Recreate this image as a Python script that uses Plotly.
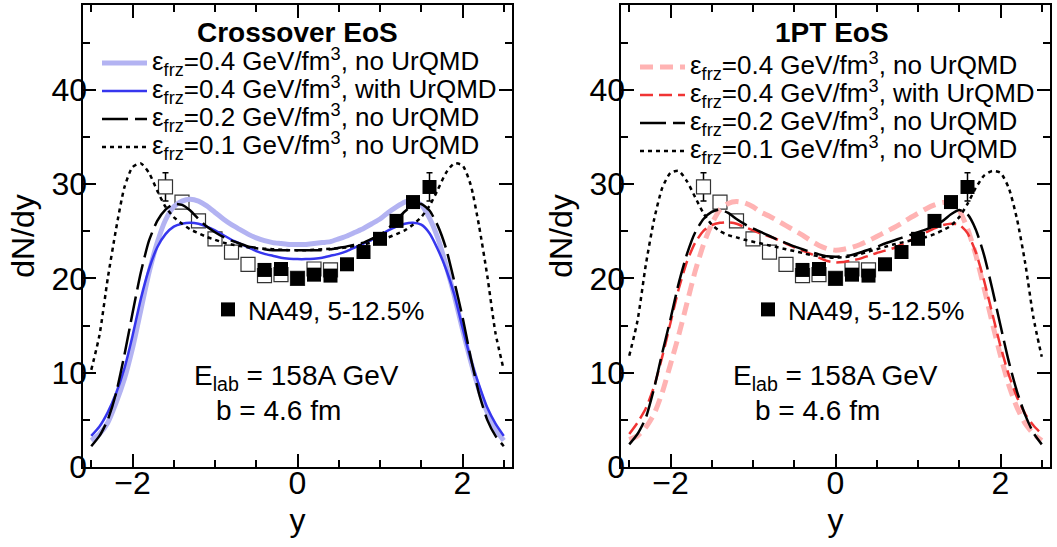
import plotly.graph_objects as go

FONT = "Liberation Sans, Arial, Helvetica, sans-serif"

# rapidity grid of the model curves
Y_GRID = [-2.5, -2.4, -2.3, -2.2, -2.1, -2.0, -1.9, -1.8, -1.7, -1.6, -1.5, -1.4, -1.3,
          -1.2, -1.1, -1.0, -0.9, -0.8, -0.7, -0.6, -0.5, -0.4, -0.3, -0.2, -0.1, 0.0,
          0.1, 0.2, 0.3, 0.4, 0.5, 0.6, 0.7, 0.8, 0.9, 1.0, 1.1, 1.2, 1.3, 1.4, 1.5,
          1.6, 1.7, 1.8, 1.9, 2.0, 2.1, 2.2, 2.3, 2.4, 2.5]

# ---- Crossover EoS ----
XO_04_NO = [2.8, 3.5, 4.7, 6.8, 9.3, 12.6, 16.6, 20.6, 23.8, 26.2, 27.6, 28.2, 28.4,
            28.2, 27.7, 27.0, 26.3, 25.7, 25.2, 24.7, 24.3, 24.0, 23.8, 23.7, 23.6, 23.6,
            23.6, 23.7, 23.8, 23.9, 24.2, 24.5, 24.9, 25.3, 25.8, 26.3, 27.0, 27.6, 28.1, 28.3, 27.8,
            26.4, 24.3, 21.4, 18.2, 14.6, 11.2, 8.2, 5.8, 4.0, 2.8]
XO_04_WITH = [3.3, 4.3, 5.8, 7.8, 10.4, 13.9, 17.8, 21.0, 23.3, 24.7, 25.5, 25.8, 25.9,
              25.8, 25.5, 25.1, 24.6, 24.1, 23.7, 23.3, 22.9, 22.6, 22.4, 22.2, 22.1, 22.05,
              22.05, 22.1, 22.2, 22.4, 22.6, 22.9, 23.3, 23.7, 24.1, 24.6, 25.1, 25.5, 25.8, 25.9, 25.7,
              24.8, 23.1, 21.0, 18.3, 14.8, 11.4, 8.7, 6.3, 4.6, 3.3]
XO_02_NO = [2.2, 3.3, 5.0, 7.8, 11.8, 16.3, 20.6, 24.0, 26.1, 27.3, 27.9, 27.8, 27.2,
            26.3, 25.5, 24.9, 24.4, 24.0, 23.7, 23.4, 23.25, 23.1, 23.0, 23.0, 23.0, 23.0,
            23.0, 23.0, 23.0, 23.1, 23.25, 23.4, 23.6, 23.8, 24.2, 24.6, 25.3, 26.2, 27.1, 27.8, 27.9,
            27.2, 25.6, 23.2, 19.7, 15.9, 11.6, 7.8, 5.0, 3.3, 2.2]
XO_01_NO = [10.3, 14.0, 20.0, 25.2, 29.6, 31.8, 32.2, 31.2, 29.3, 27.6, 26.5, 25.8, 25.2,
            24.8, 24.4, 24.1, 23.8, 23.6, 23.45, 23.3, 23.2, 23.15, 23.1, 23.05, 23.0, 23.0,
            23.0, 23.05, 23.1, 23.15, 23.2, 23.3, 23.45, 23.6, 23.8, 24.05, 24.35, 24.7, 25.1, 25.7, 26.5,
            27.7, 29.4, 31.2, 32.2, 32.0, 29.9, 25.6, 20.3, 14.2, 10.3]

# ---- 1PT EoS ----
PT_04_NO = [2.9, 3.3, 4.2, 5.6, 7.9, 10.9, 14.0, 17.4, 20.8, 23.6, 25.8, 27.3, 27.95,
            28.15, 28.0, 27.6, 27.0, 26.6, 26.1, 25.6, 25.1, 24.6, 24.0, 23.5, 23.15, 23.0,
            23.1, 23.3, 23.6, 24.0, 24.45, 24.9, 25.35, 25.85, 26.4, 26.9, 27.4, 27.8, 28.05, 27.95, 27.2,
            25.3, 22.5, 19.0, 15.3, 11.8, 8.7, 6.3, 4.6, 3.5, 2.8]
PT_04_WITH = [3.5, 4.7, 6.2, 8.5, 11.7, 15.3, 18.9, 21.8, 23.8, 25.05, 25.65, 25.9, 25.95,
              25.8, 25.45, 25.1, 24.75, 24.45, 24.1, 23.7, 23.3, 22.95, 22.6, 22.2, 21.85, 21.7,
              21.75, 21.9, 22.1, 22.4, 22.7, 22.95, 23.2, 23.6, 24.0, 24.5, 24.9, 25.3, 25.65, 25.8, 25.7,
              24.8, 22.8, 19.8, 16.3, 12.8, 9.8, 7.4, 5.6, 4.4, 3.5]
PT_02_NO = [2.4, 3.5, 5.2, 8.3, 12.1, 15.7, 19.5, 22.6, 24.9, 26.3, 27.05, 27.3, 26.95,
            26.3, 25.75, 25.3, 24.9, 24.5, 24.1, 23.75, 23.4, 23.1, 22.8, 22.55, 22.35, 22.3,
            22.35, 22.5, 22.75, 23.05, 23.35, 23.7, 24.0, 24.3, 24.6, 24.9, 25.2, 25.6, 26.1, 26.8, 27.25,
            26.8, 25.2, 22.5, 18.9, 15.0, 11.2, 8.0, 5.5, 3.6, 2.4]
PT_01_NO = [11.8, 15.5, 21.4, 26.2, 29.6, 31.2, 31.4, 30.3, 28.6, 26.9, 25.7, 25.0, 24.6,
            24.35, 24.1, 23.9, 23.7, 23.5, 23.3, 23.1, 22.9, 22.7, 22.5, 22.35, 22.25, 22.2,
            22.25, 22.35, 22.6, 22.85, 23.1, 23.35, 23.6, 23.8, 24.0, 24.2, 24.4, 24.7, 25.1, 25.6, 26.5,
            27.9, 29.6, 30.9, 31.4, 31.2, 29.6, 26.3, 21.6, 15.8, 11.7]

# ---- NA49 data, 5-12.5% (measured points; open = reflected) ----
NA49_Y = [-0.4, -0.2, 0.0, 0.2, 0.4, 0.6, 0.8, 1.0, 1.2, 1.4, 1.6]
NA49_DNDY = [20.9, 21.0, 20.0, 20.4, 20.3, 21.5, 22.8, 24.2, 26.1, 28.1, 29.7]
NA49_ERR = [0.0, 0.0, 0.0, 0.0, 0.0, 0.0, 0.0, 0.0, 0.0, 0.0, 1.5]
NA49_Y_REFL = [-v for v in NA49_Y]

X_TICKS = [-2, 0, 2]
Y_TICKS = [0, 10, 20, 30, 40]
X_RANGE = [-2.6, 2.6]
Y_RANGE = [0, 49]

LEG_TXT = 26
def eps_label(val, what):
    return (f'<span style="font-size:{LEG_TXT}px">ε<sub>frz</sub>={val} GeV/fm<sup>3</sup>, '
            f'{what} UrQMD</span>')

fig = go.Figure()

def add_panel(xa, ya, xl, yl, curves, leg, leg_na49):
    # reflected (open) points first, curves on top of them
    fig.add_trace(go.Scatter(
        x=NA49_Y_REFL, y=NA49_DNDY, mode="markers", xaxis=xa, yaxis=ya, showlegend=False,
        marker=dict(symbol="square", size=14, color="white", line=dict(width=1.2, color="#333333")),
        error_y=dict(type="data", array=NA49_ERR, color="black", thickness=1.5, width=3),
        hoverinfo="skip"))
    for yv, name, color, width, dash in curves:
        fig.add_trace(go.Scatter(
            x=Y_GRID, y=yv, mode="lines", name=name, xaxis=xa, yaxis=ya,
            line=dict(color=color, width=width, dash=dash, shape="spline", smoothing=0.6),
            legend=leg, hoverinfo="skip"))
    fig.add_trace(go.Scatter(
        x=NA49_Y, y=NA49_DNDY, mode="markers", xaxis=xa, yaxis=ya, name="NA49, 5-12.5%",
        legend=leg_na49,
        marker=dict(symbol="square", size=14, color="black", line=dict(width=0)),
        error_y=dict(type="data", array=NA49_ERR, color="black", thickness=1.5, width=3)))
    # transparent copy of the data that carries the tick-label axes
    fig.add_trace(go.Scatter(
        x=NA49_Y, y=NA49_DNDY, mode="markers", xaxis=xl, yaxis=yl, showlegend=False,
        marker=dict(opacity=0), hoverinfo="skip"))

LONG = "26px,7px"
DOT = "4px,4px"
add_panel("x", "y", "x3", "y3", [
    (XO_04_NO, eps_label("0.4", "no"), "#b3b3f2", 5, "solid"),
    (XO_04_WITH, eps_label("0.4", "with"), "#3636ee", 2.5, "solid"),
    (XO_02_NO, eps_label("0.2", "no"), "black", 2.5, LONG),
    (XO_01_NO, eps_label("0.1", "no"), "black", 2.5, DOT),
], "legend", "legend3")
add_panel("x2", "y2", "x4", "y4", [
    (PT_04_NO, eps_label("0.4", "no"), "#ffb3b3", 5, "13px,7px"),
    (PT_04_WITH, eps_label("0.4", "with"), "#f03434", 2.5, "13px,6px"),
    (PT_02_NO, eps_label("0.2", "no"), "black", 2.5, LONG),
    (PT_01_NO, eps_label("0.1", "no"), "black", 2.5, DOT),
], "legend2", "legend4")

W, H = 1057, 547
def px(v):
    return v / W
def py(v):
    return 1 - v / H

TICKFONT = dict(family=FONT, size=32, color="black")
TITLEFONT = dict(family=FONT, size=32, color="black")

# frame axes: line + inside ticks on all four sides, no labels
frame = dict(showline=True, linecolor="black", linewidth=2, mirror="ticks",
             ticks="inside", ticklen=13, tickwidth=1.5, tickcolor="black",
             showgrid=False, zeroline=False, automargin=False, showticklabels=False)
xframe = dict(frame, range=X_RANGE, tickvals=X_TICKS,
              minor=dict(ticks="inside", ticklen=7, tickwidth=1.5, tickcolor="black", dtick=0.5,
                         showgrid=False))
yframe = dict(frame, range=Y_RANGE, tickvals=Y_TICKS,
              minor=dict(ticks="inside", ticklen=7, tickwidth=1.5, tickcolor="black", dtick=5,
                         showgrid=False))
# label axes: tick labels + titles, placed slightly closer to the frame
label = dict(showline=False, ticks="", showgrid=False, zeroline=False, automargin=False,
             showticklabels=True, tickfont=TICKFONT, anchor="free")
xlabel = dict(label, range=X_RANGE, tickvals=X_TICKS, position=(H - 467 + 6) / H,
              title=dict(text="y", font=TITLEFONT, standoff=8))
ylabel = dict(label, range=Y_RANGE, tickvals=Y_TICKS,
              title=dict(text="dN/dy", font=TITLEFONT, standoff=6))

leg_common = dict(bgcolor="rgba(0,0,0,0)", borderwidth=0, xanchor="left", yanchor="top",
                  font=dict(family=FONT, size=19.23, color="black"), itemwidth=45,
                  tracegroupgap=0)
na_common = dict(bgcolor="rgba(0,0,0,0)", borderwidth=0, xanchor="left", yanchor="top",
                 font=dict(family=FONT, size=26, color="black"), itemwidth=30)

YDOM = [1 - 467 / H, 1 - 5 / H]
fig.update_layout(
    template="none",
    width=W, height=H, margin=dict(l=0, r=0, t=0, b=0, autoexpand=False),
    paper_bgcolor="white", plot_bgcolor="white",
    font=dict(family=FONT, color="black"),
    xaxis=dict(xframe, domain=[px(83), px(512)], anchor="y"),
    yaxis=dict(yframe, domain=YDOM, anchor="x"),
    xaxis2=dict(xframe, domain=[px(621), px(1050)], anchor="y2"),
    yaxis2=dict(yframe, domain=YDOM, anchor="x2"),
    xaxis3=dict(xlabel, overlaying="x", domain=[px(83), px(512)]),
    yaxis3=dict(ylabel, overlaying="y", domain=YDOM, position=px(87)),
    xaxis4=dict(xlabel, overlaying="x2", domain=[px(621), px(1050)]),
    yaxis4=dict(ylabel, overlaying="y2", domain=YDOM, position=px(625)),
    legend=dict(leg_common, x=px(97), y=py(44)),
    legend2=dict(leg_common, x=px(635), y=py(48)),
    legend3=dict(na_common, x=px(208), y=py(286)),
    legend4=dict(na_common, x=px(748), y=py(286)),
    showlegend=True,
)

ann_font = dict(family=FONT, size=28, color="black")
annotations = [
    dict(text="<b>Crossover EoS</b>", x=px(297), y=py(33)),
    dict(text="<b>1PT EoS</b>", x=px(832), y=py(33)),
    dict(text="E<sub>lab</sub> = 158A GeV", x=px(296), y=py(377)),
    dict(text="b = 4.6 fm", x=px(278), y=py(410)),
    dict(text="E<sub>lab</sub> = 158A GeV", x=px(835), y=py(377)),
    dict(text="b = 4.6 fm", x=px(817), y=py(410)),
]
for a in annotations:
    fig.add_annotation(xref="paper", yref="paper", showarrow=False, xanchor="center",
                       yanchor="middle", font=ann_font, **a)

fig.write_html("out.html")
